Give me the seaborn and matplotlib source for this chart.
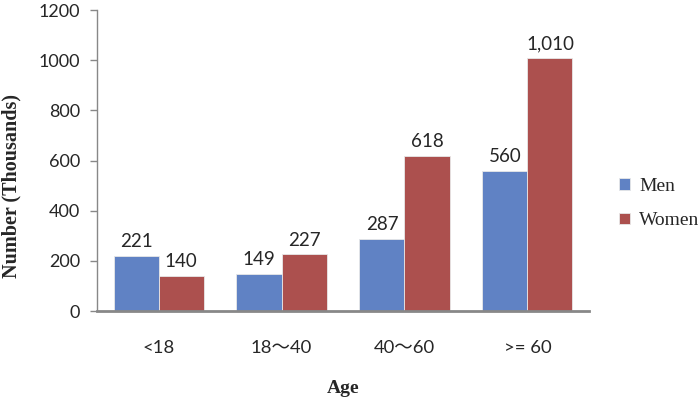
import matplotlib
matplotlib.use("Agg")
import matplotlib.pyplot as plt
import seaborn as sns
import pandas as pd

categories = ["<18", "18\uff5e40", "40\uff5e60", ">= 60"]
men = [221, 149, 287, 560]
women = [140, 227, 618, 1010]
series_names = ["Men", "Women"]
y_ticks = [0, 200, 400, 600, 800, 1000, 1200]

df = pd.DataFrame({
    "Age": categories * 2,
    "Value": men + women,
    "Sex": [series_names[0]] * len(categories) + [series_names[1]] * len(categories),
})

sns.set_theme(style="white")
plt.rcParams['font.family'] = ['Lato', 'Noto Sans CJK SC', 'DejaVu Sans']

fig = plt.figure(figsize=(7, 4.01), dpi=100)
ax = fig.add_axes([0.1386, 0.2244, 0.7028, 0.7506])

palette = {"Men": "#6082C4", "Women": "#AC504E"}
sns.barplot(data=df, x="Age", y="Value", hue="Sex", order=categories,
            hue_order=series_names, palette=palette, width=0.732,
            edgecolor="#e8e8e8", linewidth=0.6, saturation=1, ax=ax)

for cont in ax.containers:
    ax.bar_label(cont, labels=[f"{v:,.0f}" for v in cont.datavalues],
                 padding=4, fontsize=13.5, color="#262626",
                 family=['Lato', 'DejaVu Sans'])

ax.set_ylim(0, 1200)
ax.set_yticks(y_ticks)
ax.set_yticklabels([str(t) for t in y_ticks], fontsize=13, color="#262626")
ax.set_xticks(range(len(categories)))
ax.set_xticklabels(categories, fontsize=13.3, color="#262626",
                   family=['Lato', 'Noto Sans CJK SC', 'DejaVu Sans'])
ax.tick_params(axis='x', length=0, pad=21)
ax.tick_params(axis='y', length=5, width=1, color="#888888", direction='out', pad=7, left=True)
ax.set_xlim(-0.5, 3.5)

for s in ["top", "right"]:
    ax.spines[s].set_visible(False)
ax.spines["left"].set_color("#888888")
ax.spines["left"].set_linewidth(1.0)
ax.spines["bottom"].set_color("#888888")
ax.spines["bottom"].set_linewidth(2.0)

ax.set_xlabel("Age", fontsize=14, fontweight="bold", family="Liberation Serif", labelpad=17)
ax.set_ylabel("Number (Thousands)", fontsize=14.5, fontweight="bold", family="Liberation Serif")
ax.yaxis.set_label_coords(-0.153, 0.415)

ax.legend_.remove()
handles, labels = ax.get_legend_handles_labels()
fig.legend(handles, labels, loc="center left",
           bbox_to_anchor=(619 / 700, (401 - 203.5) / 401), frameon=False,
           prop={"family": "Liberation Serif", "size": 14},
           handlelength=0.55, handleheight=0.55, labelspacing=0.9,
           handletextpad=0.5, borderpad=0, borderaxespad=0)

fig.savefig("out.png", dpi=100)
